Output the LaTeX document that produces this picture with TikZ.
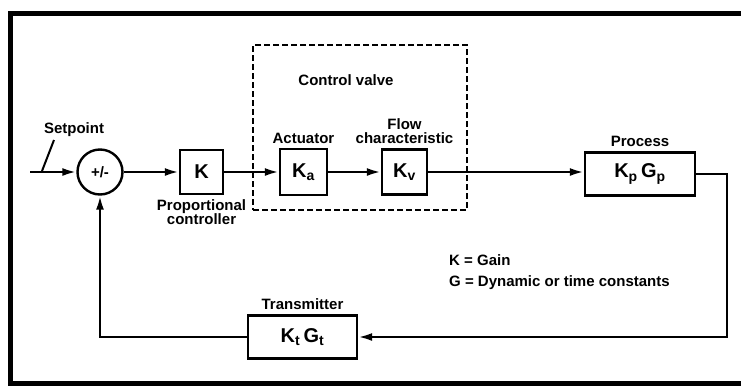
\documentclass[tikz,border=0pt]{standalone}
\usepackage{fontspec}
\setmainfont{Liberation Sans}
\usetikzlibrary{positioning, arrows.meta}

\begin{document}
\begin{tikzpicture}[
        x=1pt, y=-1pt,
        font=\bfseries\fontsize{15}{16}\selectfont,
        node distance=3pt,
        block/.style={draw, line width=2.4pt, rectangle, inner sep=0pt, font=\bfseries\fontsize{20}{20}\selectfont},
        summer/.style={draw, line width=2.4pt, circle, minimum size=45pt, inner sep=0pt},
        valvebox/.style={draw, dash pattern=on 6pt off 3pt, line width=1.6pt, rectangle, minimum width=214pt, minimum height=165pt},
        label/.style={align=center, inner sep=1pt},
        arrow/.style={-{Latex[length=14pt, width=8pt]}, line width=2.4pt},
        wire/.style={line width=2pt}
    ]
    \useasboundingbox (0,0) rectangle (741,391);
    % outer frame
    \draw[line width=5pt] (745,13) -- (10,13) -- (10,383) -- (745,383);

    % forward path
    \coordinate (In) at (30,172);
    \node[summer] (Sum) at (100,172) {+/-};
    \node[block, minimum width=43pt, minimum height=44pt] (K) at (201.5,172) {K};
    \node[valvebox] (Valve) at (360,127.5) {};
    \node[block, minimum width=47pt, minimum height=46pt] (Ka) at (303.5,172) {K\textsubscript{a}};
    \node[block, minimum width=45pt, minimum height=45pt] (Kv) at (404.5,172) {K\textsubscript{v}};
    \node[block, minimum width=110pt, minimum height=43pt] (Proc) at (640,174) {K\textsubscript{p}\,G\textsubscript{p}};
    \node[block, minimum width=109pt, minimum height=43pt] (Trans) at (302.5,337) {K\textsubscript{t}\,G\textsubscript{t}};

    % labels
    \node[label] (SetLbl) at (74,130) {Setpoint};
    \node[label, below=of K] (KLbl) {Proportional\\[-2pt]controller};
    \node[label] (ValveLbl) at (346,80) {Control valve};
    \node[label, above=of Ka] (KaLbl) {Actuator};
    \node[label, above=of Kv] (KvLbl) {Flow\\[-2pt]characteristic};
    \node[label, above=of Proc] (ProcLbl) {Process};
    \node[label, above=of Trans] (TransLbl) {Transmitter};
    \node[label, anchor=west] (KeyK) at (448,260) {K = Gain};
    \node[label, anchor=west] (KeyG) at (448,283) {G = Dynamic or time constants};

    % connectors
    \coordinate (SetTip) at (54,140);
    \coordinate (SetPt) at (42,171);
    \draw[wire] (SetTip) -- (SetPt);
    \draw[arrow] (In) -- (Sum);
    \draw[arrow] (Sum) -- (K);
    \draw[arrow] (K) -- (Ka);
    \draw[arrow] (Ka) -- (Kv);
    \draw[arrow] (Kv) -- (Proc.west |- Kv.east);
    \coordinate (RightTop) at (727,174);
    \coordinate (RightBot) at (727,337);
    \draw[arrow] (Proc.east) -- (RightTop) -- (RightBot) -- (Trans.east);
    \draw[arrow] (Trans.west) -| (Sum.south);

\end{tikzpicture}
\end{document}
